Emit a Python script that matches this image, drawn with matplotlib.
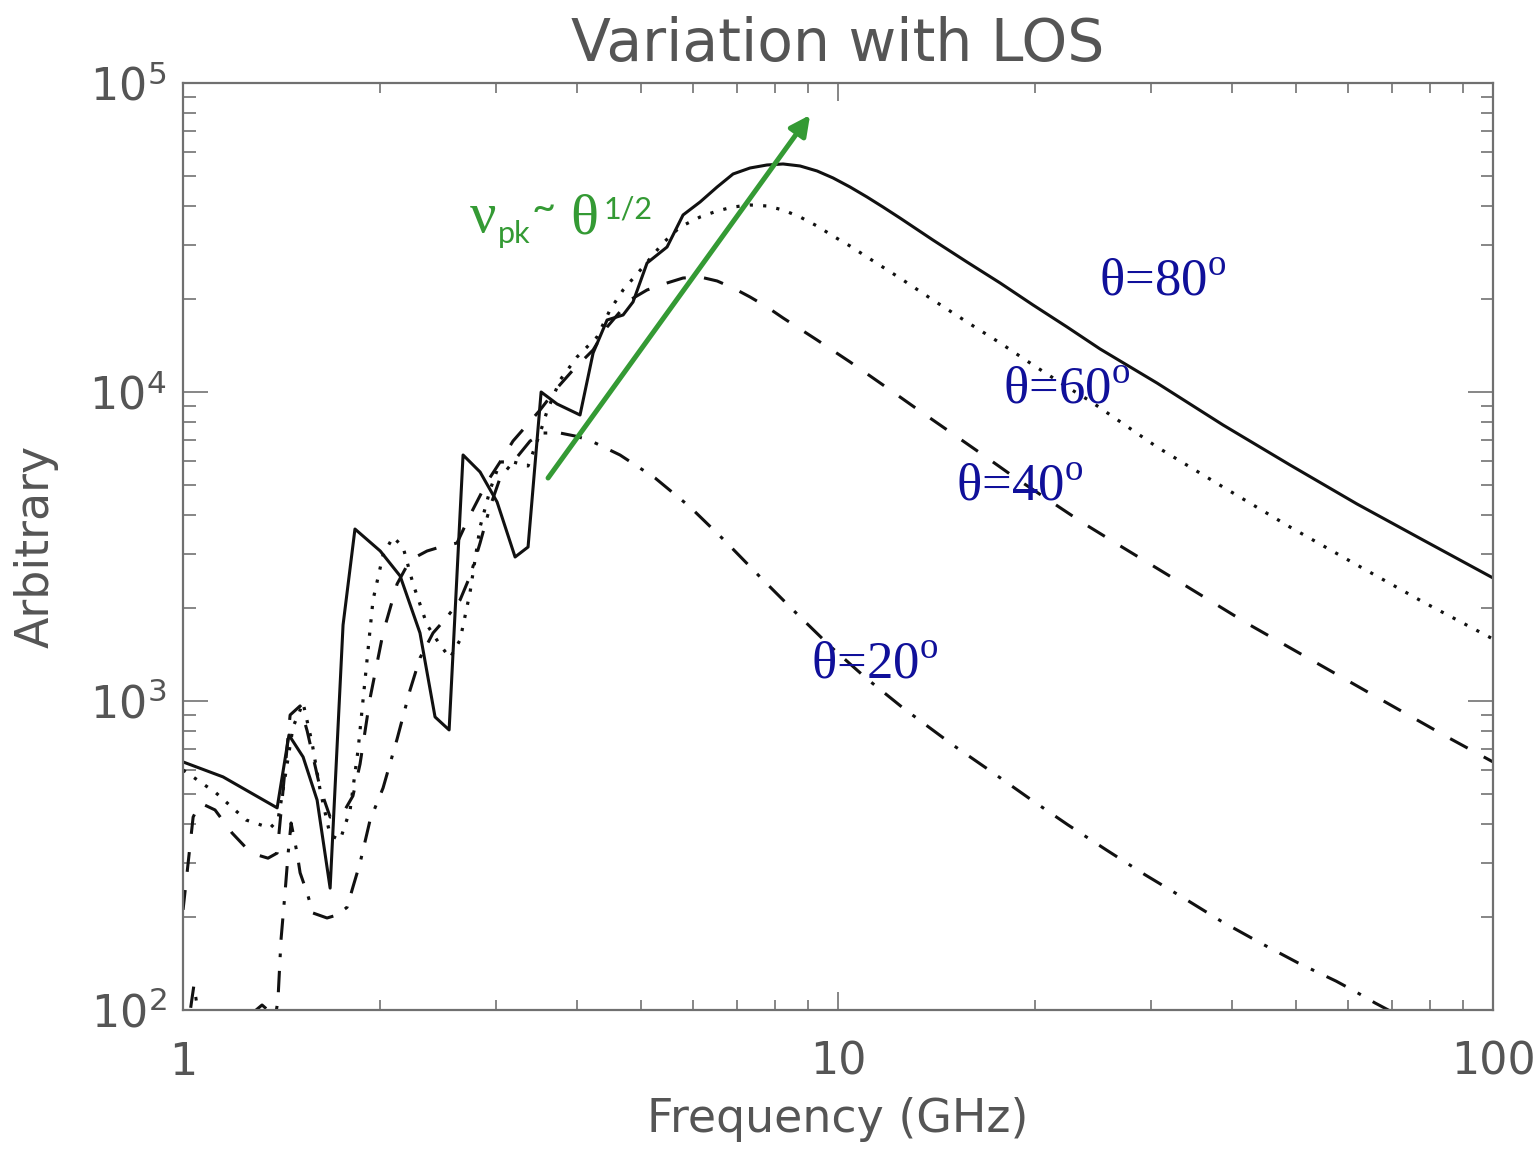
import numpy as np
import matplotlib
matplotlib.use('Agg')
import matplotlib.pyplot as plt

# -----------------------------------
# DATOS
# -----------------------------------

# theta = 80 (linea continua)
freq_80 = [1.000, 1.151, 1.392, 1.451, 1.525, 1.602, 1.677, 1.755, 1.830, 2.000,
           2.145, 2.300, 2.425, 2.548, 2.676, 2.841, 3.016, 3.213, 3.363, 3.521,
           3.724, 4.037, 4.227, 4.440, 4.697, 4.864, 5.110, 5.482, 5.799, 6.157,
           6.537, 6.914, 7.339, 7.790, 8.243, 8.750, 9.289, 9.826, 10.43, 11.07,
           11.71, 12.43, 13.96, 15.73, 17.68, 19.85, 22.37, 25.12, 30.69, 38.70,
           48.98, 61.99, 78.18, 100]
amp_80 = [635, 568, 451, 776, 659, 478, 248, 1762, 3602, 3058,
          2538, 1660, 888, 806, 6254, 5510, 4406, 2924, 3150, 10000,
          9146, 8425, 13377, 17100, 17750, 19560, 26150, 29460, 37400, 41200,
          46070, 50760, 53080, 54280, 54690, 53880, 51910, 49280, 46070, 42770,
          39690, 36570, 31030, 26350, 22530, 19120, 16230, 13780, 10690, 7822,
          5806, 4341, 3319, 2501]

# theta = 60 (punteada)
freq_60 = [1.000, 1.123, 1.248, 1.358, 1.396, 1.421, 1.472, 1.525, 1.574, 1.619,
           1.677, 1.737, 1.799, 1.850, 1.896, 1.950, 2.020, 2.092, 2.167, 2.245,
           2.358, 2.469, 2.556, 2.648, 2.743, 2.841, 2.942, 3.048, 3.190, 3.363,
           3.508, 3.596, 3.764, 3.995, 4.286, 4.486, 4.697, 5.038, 5.405, 5.738,
           6.157, 6.537, 6.914, 7.339, 7.790, 8.243, 8.750, 9.289, 9.826, 10.43,
           11.07, 12.43, 13.96, 15.73, 17.68, 19.85, 22.37, 24.25, 30.69, 38.70,
           48.98, 61.99, 78.18, 100]
amp_60 = [598, 504, 412, 388, 412, 515, 824, 985, 731, 515,
          368, 355, 444, 694, 1170, 2123, 2969, 3394, 3150, 2391,
          1762, 1518, 1378, 1576, 2253, 3657, 4817, 5937, 5937, 5762,
          7366, 8681, 10935, 12985, 15070, 18430, 21390, 25380, 30350, 34200,
          36840, 38530, 39690, 40290, 39990, 38810, 36840, 34450, 31970, 29680,
          27350, 23380, 19850, 16850, 14410, 12230, 10380, 9352, 6637, 4927,
          3657, 2755, 2092, 1587]

# theta = 40 (discontinua)
freq_40 = [1.000, 1.036, 1.062, 1.119, 1.188, 1.270, 1.348, 1.392, 1.457, 1.509,
           1.547, 1.619, 1.677, 1.755, 1.817, 1.863, 1.930, 2.020, 2.122, 2.221,
           2.358, 2.469, 2.620, 2.743, 2.912, 3.048, 3.190, 3.351, 3.508, 3.724,
           3.939, 4.227, 4.440, 4.813, 5.110, 5.482, 5.799, 6.157, 6.537, 6.914,
           7.339, 7.790, 8.243, 9.289, 10.43, 11.71, 13.20, 14.83, 16.65, 18.76,
           21.07, 23.66, 27.14, 33.99, 42.27, 53.48, 67.21, 85.09, 100]
amp_40 = [211, 421, 468, 444, 374, 322, 310, 322, 901, 964,
          800, 523, 421, 434, 493, 625, 1022, 1660, 2391, 2859,
          3058, 3150, 3246, 3998, 5114, 5937, 6940, 7822, 8745, 10300,
          11780, 13675, 16230, 19850, 21390, 22530, 23380, 23560, 22870, 21710,
          20300, 18840, 17360, 14730, 12510, 10540, 8810, 7422, 6254, 5228,
          4439, 3768, 3150, 2356, 1775, 1337, 1015, 765, 635]

# theta = 20 (punto y raya)
freq_20 = [1.000, 1.025, 1.039, 1.054, 1.119, 1.266, 1.320, 1.358, 1.387, 1.396,
           1.411, 1.431, 1.447, 1.462, 1.493, 1.509, 1.547, 1.579, 1.659, 1.718,
           1.780, 1.817, 1.863, 1.930, 2.020, 2.122, 2.221, 2.300, 2.408, 2.530,
           2.648, 2.743, 2.841, 2.942, 3.048, 3.190, 3.387, 3.545, 3.764, 3.967,
           4.168, 4.646, 5.256, 5.943, 6.722, 7.603, 8.628, 9.757, 11.03, 12.57,
           14.98, 17.18, 19.64, 22.45, 25.66, 29.42, 33.63, 38.43, 44.10, 50.40,
           57.60, 61.78, 66.04, 70.13, 77.36, 100]
amp_20 = [69, 98.5, 120.5, 98.5, 69, 96.3, 103.8, 98.5, 98.5, 107.7,
          168.5, 239, 322, 403, 322, 278, 239, 206, 198.5, 203,
          215, 250, 299, 412, 523, 753, 1085, 1378, 1660, 1870,
          2123, 2538, 3246, 4246, 5268, 5937, 6940, 7366, 7366, 7203,
          6992, 6254, 5268, 4246, 3295, 2520, 1927, 1495, 1187, 949,
          720, 589, 482, 397, 330, 274, 231, 194, 165, 142,
          124, 114.4, 105.4, 98.5, 86, 59]

etiquetas = ['θ=80', 'θ=60', 'θ=40', 'θ=20']
pos_etiquetas = [(31.35, 22700), (22.37, 10150), (18.96, 4927), (11.39, 1308)]

# flecha verde
flecha_ini = (3.608, 5268)
flecha_fin = (9.064, 78770)

VERDE = '#349a34'
AZUL = '#10109a'
GRIS = '#555555'

plt.rcParams['mathtext.fontset'] = 'custom'
plt.rcParams['mathtext.rm'] = 'Liberation Serif'
plt.rcParams['font.family'] = 'DejaVu Sans'

# -----------------------------------
# FIGURA
# -----------------------------------

fig = plt.figure(figsize=(15.37, 11.51), dpi=100)
ax = fig.add_axes([0.1191, 0.1225, 0.8523, 0.8054])

ax.plot(freq_80, amp_80, color='#111111', lw=2.2, linestyle='-')
ax.plot(freq_60, amp_60, color='#111111', lw=2.3, linestyle=(0, (1, 3.2)))
ax.plot(freq_40, amp_40, color='#111111', lw=2.2, linestyle=(0, (6.5, 6)))
ax.plot(freq_20, amp_20, color='#111111', lw=2.2, linestyle=(0, (7, 4.5, 1.2, 4.5)))

ax.set_xscale('log')
ax.set_yscale('log')
ax.set_xlim(1, 100)
ax.set_ylim(100, 1e5)

ax.set_xticks([1, 10, 100])
ax.set_xticklabels(['1', '10', '100'])
ax.set_yticks([1e2, 1e3, 1e4, 1e5])
ax.set_yticklabels([r'$\mathdefault{10^{2}}$', r'$\mathdefault{10^{3}}$',
                    r'$\mathdefault{10^{4}}$', r'$\mathdefault{10^{5}}$'])

ax.tick_params(which='both', direction='in', top=True, right=True,
               colors='#666666', labelcolor=GRIS, width=1.1)
ax.tick_params(axis='x', which='major', length=13, labelsize=32, pad=22)
ax.tick_params(axis='x', which='minor', length=7)
ax.tick_params(axis='y', which='major', length=18, labelsize=32, pad=12)
ax.tick_params(axis='y', which='minor', length=9)

for s in ax.spines.values():
    s.set_color('#707070')
    s.set_linewidth(1.6)

ax.set_title('Variation with LOS', fontsize=42, color=GRIS, pad=16)
ax.set_xlabel('Frequency (GHz)', fontsize=33, color=GRIS, labelpad=10)
ax.set_ylabel('Arbitrary', fontsize=33, color=GRIS, labelpad=22)

# etiquetas de angulo
for txt, (fx, fy) in zip(etiquetas, pos_etiquetas):
    ax.text(fx, fy, txt + r'$^{\mathrm{o}}$', fontsize=38, color=AZUL,
            family='Liberation Serif', ha='center', va='center')

# flecha
ax.annotate('', xy=flecha_fin, xytext=flecha_ini,
            arrowprops=dict(arrowstyle='-|>', color=VERDE, lw=3.6,
                            mutation_scale=30, shrinkA=0, shrinkB=0))

# texto nu_pk ~ theta^(1/2)
W, H = 1537, 1151
fig.text(470 / W, 1 - 232 / H, 'ν', fontsize=42, color=VERDE,
         family='Liberation Serif', va='baseline')
fig.text(498 / W, 1 - 243 / H, 'pk', fontsize=22, color=VERDE,
         family='Lato', va='baseline')
fig.text(532 / W, 1 - 221 / H, '~', fontsize=30, color=VERDE,
         family='Lato', va='baseline')
fig.text(570 / W, 1 - 233 / H, 'θ', fontsize=42, color=VERDE,
         family='Liberation Serif', va='baseline')
fig.text(604 / W, 1 - 218 / H, '1/2', fontsize=22, color=VERDE,
         family='Lato', va='baseline')

fig.savefig('out.png', dpi=100)
